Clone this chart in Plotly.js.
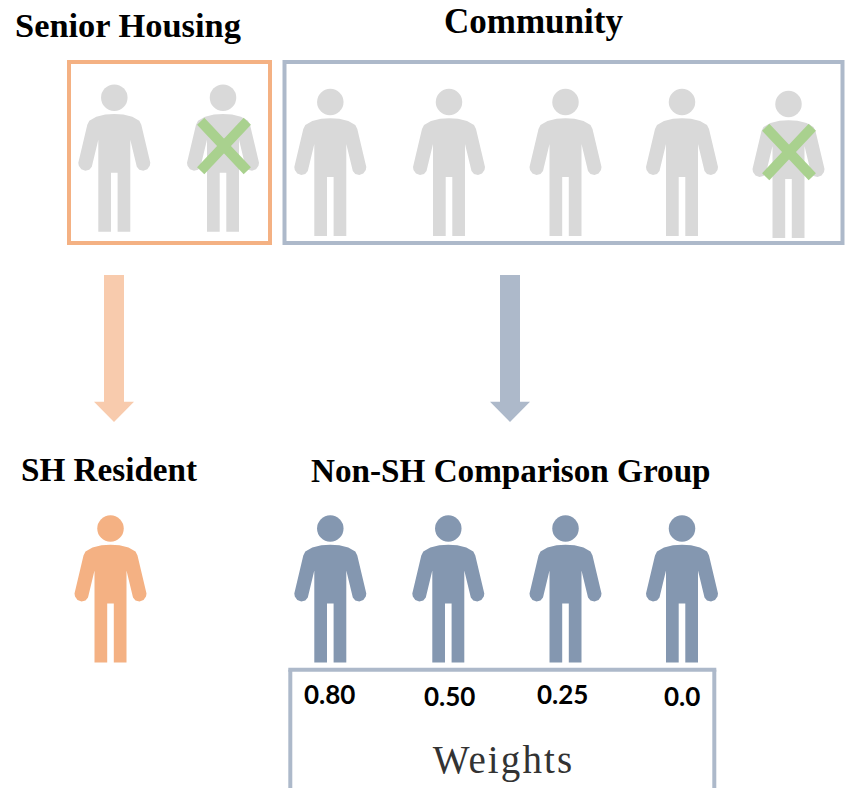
<!DOCTYPE html>
<html><head><meta charset="utf-8">
<script src="https://cdn.plot.ly/plotly-3.0.1.min.js"></script>
<style>html,body{margin:0;padding:0;background:#fff}
.annotation[data-index="8"] text{letter-spacing:2.1px}</style></head>
<body><div id="chart" style="width:846px;height:788px"></div>
<script>
// Figures: horizontal centre and head-centre height
const grayX = [114.3, 223, 330.3, 449, 565.5, 682, 788.5];
const grayY = [97.7, 97.7, 102, 102, 102, 102, 104];
const blueX = [330.3, 448.3, 565.5, 682];
const blueY = [528.5, 528.5, 528.5, 528.5];
const orangeX = [110.5];
const orangeY = [528.5];
// Excluded figures' crosses
const crossX = [224, 789];
const crossY = [146, 152];
// Labels
const headings = ["Senior Housing", "Community", "SH Resident", "Non-SH Comparison Group"];
const headingX = [128, 533, 108.5, 510.5];
const headingY = [25, 21, 469.5, 470];
const weightLabels = ["0.80", "0.50", "0.25", "0.0"];
const weightX = [329.5, 449, 562, 681.5];
const weightY = [694, 696, 694, 696];
// Person outline relative to head centre
const bodyDX = [0,9,18,25,27,35,36,35.5,33,29,25,22.5,16,16,3.3,3.3,-3.3,-3.3,-16,-16,-22.5,-25,-29,-33,-35.5,-36,-35,-27,-25,-18,-9,0];
const bodyDY = [16.3,16.8,19,23,27,61,65,68,71.5,73,72,69,42,134,134,75,75,134,134,42,69,72,73,71.5,68,65,61,27,23,19,16.8,16.3];

function figures(xs, ys, color) {
  const px = [], py = [];
  xs.forEach((x, i) => {
    bodyDX.forEach((d, k) => { px.push(x + d); py.push(ys[i] + bodyDY[k]); });
    px.push(null); py.push(null);
  });
  return [
    {x: px, y: py, mode: 'lines', fill: 'toself', fillcolor: color, line: {width: 0, color: color}, hoverinfo: 'skip', showlegend: false},
    {x: xs, y: ys, mode: 'markers', marker: {size: 26.5, color: color, line: {width: 0}}, hoverinfo: 'skip', showlegend: false}
  ];
}
function rect(x0, y0, x1, y1, color) {
  return {type: 'rect', xref: 'x', yref: 'y', x0, y0, x1, y1, line: {color, width: 4}, fillcolor: 'rgba(0,0,0,0)'};
}
function arrow(cx, color) {
  const p = [[cx-10,275],[cx+10,275],[cx+10,401.7],[cx+20,401.7],[cx,422],[cx-20,401.7],[cx-10,401.7]];
  return {type: 'path', xref: 'x', yref: 'y', path: 'M' + p.map(q => q.join(',')).join('L') + 'Z', fillcolor: color, line: {width: 0}};
}
function line(x0, y0, x1, y1, color, width) {
  return {type: 'line', xref: 'x', yref: 'y', x0, y0, x1, y1, line: {color, width}};
}
const shapes = [
  rect(69, 62, 270, 243, '#F4B183'),
  rect(284.5, 62, 842.5, 243, '#ADB9CA'),
  arrow(114, '#F8CBAD'),
  arrow(510, '#ADB9CA'),
  line(290.3, 790, 290.3, 669.7, '#ADB9CA', 4),
  line(288.3, 669.7, 716.3, 669.7, '#ADB9CA', 4),
  line(714.3, 669.7, 714.3, 790, '#ADB9CA', 4)
];
const green = '#A9D18E';
const crossLines = crossX.flatMap((x, i) => [
  Object.assign(line(x-23.3, crossY[i]-24.7, x+23.3, crossY[i]+24.7, green, 10), {layer: 'above'}),
  Object.assign(line(x+23.3, crossY[i]-24.7, x-23.3, crossY[i]+24.7, green, 10), {layer: 'above'})
]);
const headingSizes = [34.4, 35, 33.2, 33.2];
const annos = [];
headings.forEach((t, i) => annos.push({text: '<b>' + t + '</b>', x: headingX[i], y: headingY[i], xref: 'x', yref: 'y', showarrow: false, xanchor: 'center', yanchor: 'middle', font: {family: 'Liberation Serif', size: headingSizes[i], color: '#000'}}));
weightLabels.forEach((t, i) => annos.push({text: t, x: weightX[i], y: weightY[i], xref: 'x', yref: 'y', showarrow: false, xanchor: 'center', yanchor: 'middle', font: {family: 'Lato', size: 26, color: '#000', weight: 700}}));
annos.push({text: 'Weights', x: 503.5, y: 760, xref: 'x', yref: 'y', showarrow: false, xanchor: 'center', yanchor: 'middle', font: {family: 'Liberation Serif', size: 39, color: '#333'}});

const traces = [...figures(grayX, grayY, '#D9D9D9'), ...figures(blueX, blueY, '#8497B0'), ...figures(orangeX, orangeY, '#F4B183')];
Plotly.newPlot('chart', traces, {
  width: 846, height: 788, margin: {l: 0, r: 0, t: 0, b: 0},
  paper_bgcolor: '#fff', plot_bgcolor: '#fff', showlegend: false,
  xaxis: {range: [0, 846], visible: false, fixedrange: true},
  yaxis: {range: [788, 0], visible: false, fixedrange: true},
  shapes: [...shapes, ...crossLines], annotations: annos
}, {displayModeBar: false, staticPlot: true});
</script></body></html>
